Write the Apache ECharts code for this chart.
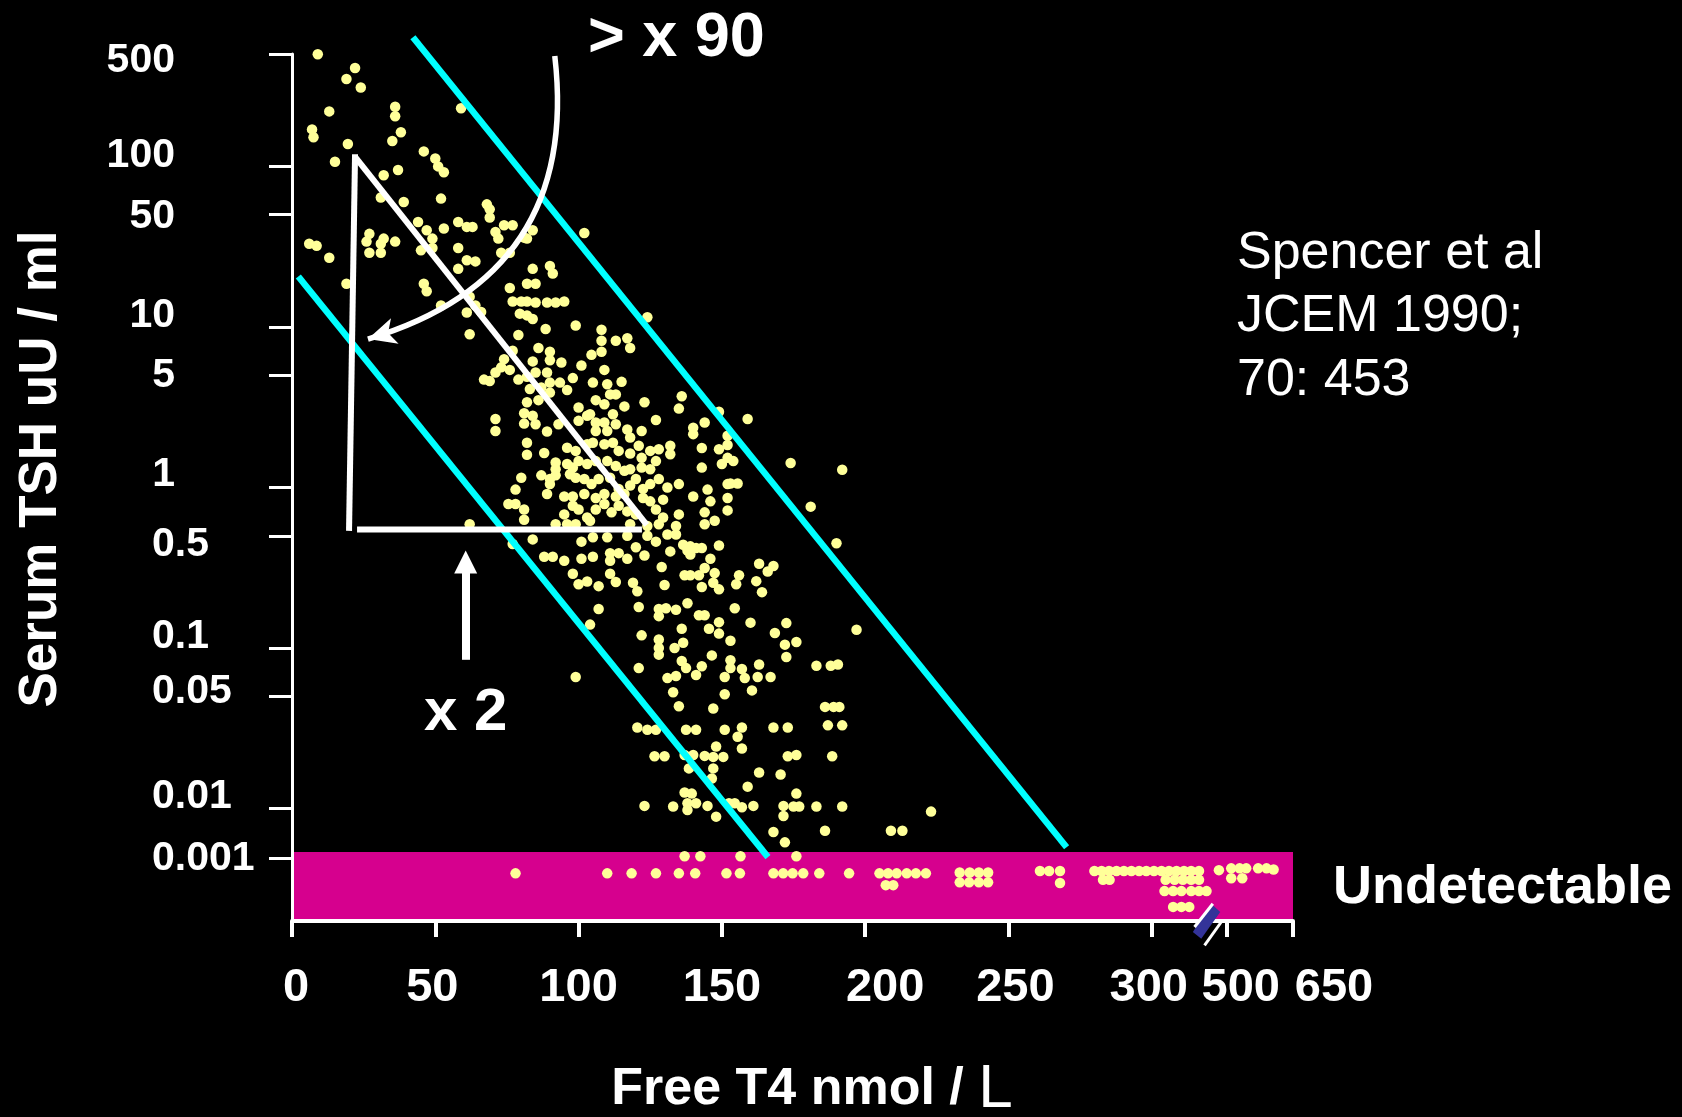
<!DOCTYPE html>
<html><head><meta charset="utf-8">
<script src="https://cdn.jsdelivr.net/npm/echarts@6/dist/echarts.min.js"></script>
<style>html,body{margin:0;padding:0;background:#000;}#c{width:1682px;height:1117px;}</style>
</head><body><div id="c"></div>
<script>
// ---------- tick labels ----------
const yTickValues = [500,100,50,10,5,1,0.5,0.1,0.05,0.01,0.001];
const yTickLabels = ['500','100','50','10','5','1','0.5','0.1','0.05','0.01','0.001'];
const xTickValues = [0,50,100,150,200,250,300,500,650];
const xTickLabels = ['0','50','100','150','200','250','300','500','650'];

// ---------- data: [Free T4 nmol/L, TSH uU/ml] ----------
const pointsHighTSH = [[9,500],[22,410],[19,350],[24,310],[13,220],[36,235],[36,205],[59,230],[7,170],[7.5,152],[38,163],[35,144],[19.5,138],[46,124],[15,107],[50,112],[51,100],[53,92],[32,88],[37,95],[31,64],[39,60],[52,63],[68,58],[69,54],[69,48],[44,45],[47,40],[53,41],[58,45],[61,42],[63,42],[71,39],[74,43],[77,43],[72,35.5],[81,36],[84,40],[82,35.5],[27,38],[26,34],[27,29],[31,29],[32,35.5],[31,33],[36,34],[6,33],[8.6,32],[13,27],[49,35.5],[49,31],[45,30],[58,31],[61,26],[64,25.6],[73,29],[76,29],[58,23],[84,23],[90,24],[91,21.5],[76,17.5],[82,18.6],[85,18.6],[46,18.6],[47,16.7],[19,18.6],[77,14.4],[80,14.4],[82,14.4],[85,14.2],[89,14.2],[92,14.2],[95,14.4],[79.5,12.1],[82,11.8],[84,11.2],[52,13.6],[62,15.4],[64,13.6],[66,12.4],[61,12.3],[99,10.2],[88.5,9.7],[102,38.5],[124,11.5],[62,9.0],[79,8.9],[108,9.6],[108,8.2],[108,7.0],[113,8.2],[117,8.5],[118,7.4],[86,7.4],[90,7.0],[90,6.2],[94,6.0],[104.5,6.7],[101,5.75],[109,5.4],[77,7.1],[74,6.3],[73,5.6],[84,6.1],[71,5.2],[76,5.4],[85,5.2],[89,5.2]];

const pointsMidTSH = [[67,4.7],[69,4.6],[79,4.7],[82,4.9],[90,4.5],[93.5,4.5],[98,4.8],[96,4.05],[105,4.5],[110,4.4],[111,3.8],[115,4.55],[113,3.8],[87,4.2],[90,3.9],[83,4.1],[82,3.4],[86,3.5],[106,3.5],[109,3.3],[116,3.2],[123,3.4],[100,3.15],[104,2.86],[136,3.7],[135,3.1],[149,2.96],[71,2.67],[71,2.25],[81,2.9],[81,2.5],[84,2.8],[85,2.48],[89,2.23],[93,2.48],[100,2.6],[103,2.8],[106,2.54],[109,2.54],[112,2.86],[113,2.48],[106,2.25],[110,2.25],[117,2.3],[118,2.05],[122,2.25],[127,2.63],[140,2.36],[140,2.15],[144,2.54],[82,1.9],[88,1.64],[96,1.77],[99,1.69],[103,1.86],[105,1.9],[109,1.86],[112,1.9],[114,1.69],[118,1.63],[121,1.82],[122,1.53],[125,1.69],[128,1.73],[132,1.82],[132,1.61],[143,1.76],[149,1.73],[152,1.53],[82,1.6],[92,1.43],[92,1.3],[96,1.4],[98,1.33],[100,1.46],[103,1.4],[106,1.46],[110,1.46],[113,1.36],[116,1.27],[118,1.3],[122,1.33],[125,1.3],[127,1.46],[143,1.33],[150,1.4],[80,1.15],[87,1.19],[90,1.13],[92,1.19],[90,1.05],[97,1.21],[99,1.15],[102,1.13],[104.5,1.05],[107,1.13],[111,1.15],[114,0.98],[118,1.03],[120,1.13],[122.5,0.98],[125,1.05],[128,1.13],[135,1.05],[131,1.0],[145,0.97],[152,1.05],[78,0.97],[89,0.91],[95,0.88],[98,0.88],[102,0.91],[106,0.86],[109,0.91],[113,0.88],[116,0.91],[122.5,0.86],[125,0.82],[129.5,0.84],[140,0.88],[146,0.82],[152,0.86],[75.5,0.79],[78,0.79],[81,0.73],[81,0.63],[95,0.68],[98,0.77],[100,0.73],[103,0.65],[106,0.73],[109,0.79],[111.5,0.7],[114,0.77],[117,0.71],[120,0.68],[127,0.73],[129.5,0.65],[135,0.68],[144,0.7],[147.5,0.62],[144,0.59],[152,0.72],[62,0.59],[92,0.59],[96,0.59],[99,0.59],[104,0.62],[118,0.59],[124,0.575],[128,0.59],[134,0.575],[77,0.445],[84,0.475],[88,0.37],[91,0.37],[95,0.35],[101,0.36],[105,0.37],[98,0.29],[100,0.25],[103,0.26],[107,0.243],[111,0.39],[114,0.39],[111,0.35],[117,0.36],[120,0.425],[123,0.377],[111,0.29],[113,0.258],[119,0.255],[120.5,0.226],[107,0.175],[121,0.18],[104,0.14],[122,0.12],[101,0.46],[105,0.49],[110,0.49],[117,0.5],[124,0.5],[127,0.46],[152,2.1],[152,1.84],[154,1.46],[159,2.67],[174,1.42],[192,1.29],[181,0.76],[190,0.45],[153,1.06],[155.5,1.06],[131,0.51],[134,0.51],[132,0.4],[136.5,0.44],[138,0.405],[139,0.383],[139,0.43],[141,0.42],[143,0.42],[149,0.435],[146,0.36],[144,0.315],[147.5,0.293],[129,0.32],[137,0.284],[139,0.284],[142,0.284],[143,0.24],[147,0.255],[149,0.232],[130,0.247],[156,0.284],[162,0.261],[164,0.223],[163,0.335],[166,0.30],[168,0.324],[155,0.25],[154.5,0.177],[138,0.19],[134,0.173],[128,0.175],[130.5,0.177],[128,0.158],[142,0.16],[144,0.16],[136,0.132],[145.5,0.132],[149,0.145],[149,0.123],[160,0.144],[168.5,0.124],[172.5,0.143],[172,0.105],[176,0.109],[153,0.111],[197,0.13],[128,0.113],[128,0.1],[136.5,0.108]];

const pointsLowTSH = [[121,0.075],[99,0.066],[120.5,0.032],[124,0.031],[172.5,0.088],[146.5,0.09],[153,0.084],[153,0.075],[157,0.074],[163,0.079],[167,0.066],[183,0.0775],[188,0.0775],[190.5,0.079],[128,0.091],[133.5,0.1],[136,0.083],[137.5,0.075],[143,0.077],[141,0.068],[131,0.065],[134,0.067],[151,0.066],[158,0.065],[162.5,0.066],[127,0.031],[133,0.053],[151,0.0515],[160.5,0.0545],[135,0.0434],[147,0.042],[186,0.043],[189,0.043],[191,0.043],[137.5,0.031],[141,0.031],[151,0.031],[157,0.032],[155.5,0.028],[168,0.032],[173,0.032],[187,0.033],[192,0.033],[157,0.0237],[148,0.0244],[126.5,0.0212],[130,0.0212],[137,0.0216],[140,0.0216],[144,0.0213],[147,0.021],[150.5,0.021],[138.5,0.0178],[147,0.0178],[146.5,0.0154],[173,0.0212],[176,0.0216],[188.5,0.0212],[163,0.0168],[170.5,0.0163],[159,0.0137],[137,0.0126],[139.5,0.0124],[138,0.0108],[138,0.0094],[141,0.0108],[123,0.0104],[133,0.0103],[145,0.0104],[148,0.0069],[152.5,0.0108],[154.5,0.0108],[157,0.0102],[161,0.0104],[171.5,0.0104],[171.5,0.0071],[176,0.0124],[175,0.0103],[177,0.0103],[183,0.0103],[192,0.0103],[168,0.0034],[172,0.0021],[186,0.0036],[209,0.0036],[213,0.0036],[223,0.0087],[137,0.0011],[142.5,0.0011],[156.5,0.0011],[176,0.0011]];

const pointsUndetectable = [[78,0.0005],[110,0.0005],[118.5,0.0005],[127,0.0005],[135,0.0005],[140.7,0.0005],[151.6,0.0005],[156.3,0.0005],[168,0.0005],[171.4,0.0005],[174.7,0.0005],[178.4,0.0005],[184,0.0005],[194.4,0.0005],[205,0.0005],[208,0.0005],[211,0.0005],[214.5,0.0005],[217.7,0.0005],[221.2,0.0005],[207.2,0.00029],[209.8,0.00029],[233,0.00052],[236.5,0.00052],[239.7,0.00052],[242.9,0.00052],[233,0.00033],[236.3,0.00033],[239.7,0.00033],[242.9,0.00033],[261,0.00056],[264.2,0.00056],[268,0.00056],[268,0.00032],[280,0.00056],[282.5,0.00056],[285.1,0.00056],[287.7,0.00056],[290.3,0.00056],[292.9,0.00056],[295.6,0.00056],[298.1,0.00056],[306,0.00056],[326,0.00056],[346,0.00056],[366,0.00056],[386,0.00056],[405,0.00056],[426,0.00056],[283,0.00037],[285.3,0.00037],[337,0.00037],[361,0.00037],[383,0.00037],[405,0.00037],[426,0.00037],[334,0.00022],[357,0.00022],[379,0.00022],[405,0.00022],[426,0.00022],[446,0.00022],[357,0.000106],[379,0.000106],[400,0.000106],[479,0.00058],[510,0.00063],[529,0.00063],[544,0.00063],[510,0.0004],[535,0.0004],[571,0.00063],[590,0.00063],[606,0.0006]];

// ---------- reference lines / annotations, in data units [FT4, TSH] ----------
const upperBoundLine = [[42.2,637],[270.3,0.00167]];
const lowerBoundLine = [[2.2,20.6],[166.1,0.00106]];
const triangleVertical = [[22.0,119],[19.9,0.537]];
const triangleSlope = [[22.3,113],[123.8,0.585]];
const triangleBase = [[22.7,0.547],[122.1,0.547]];
const arcArrow = [[91.7,487],[26.5,8.41]];
const upArrow = [[60.6,0.0845],[60.6,0.344]];
const undetectableTopTSH = 0.00134;
const axisBreakFT4 = 446;

// ---------- broken axis scales ----------
function xAxisVal(x){ return x<=300 ? x : (x<=500 ? 300+(x-300)*26.2/200 : 326.2+(x-500)*23.1/150); }
function yAxisVal(v){ const l=Math.log10(v); return v>=0.01 ? l : -2+0.31*(l+2); }
const toXY = p => [xAxisVal(p[0]), yAxisVal(p[1])];
const xMax = xAxisVal(650), yMin = -2.7, yMax = 2.7;
const xTicksAxis = xTickValues.map(xAxisVal);
const yTicksAxis = yTickValues.map(yAxisVal);
function nearest(arr, v){ let b=0; for(let i=1;i<arr.length;i++){ if(Math.abs(arr[i]-v)<Math.abs(arr[b]-v)) b=i; } return b; }
// a blank slot appended at the end of each list takes ECharts' end-label overlap check
const xLabelSlots = xTicksAxis.slice(0,8).concat([xMax-0.01, xMax]);
const xTickSlots = xTicksAxis.concat([xMax]);
const yLabelSlots = yTicksAxis.concat([yMin]);
const yTickSlots = yTicksAxis.concat([yMin]);

const FONT = '"Liberation Sans", Arial, Helvetica, sans-serif';
const xLabelShift = [4,-3,0,0,20,7,-3,14,41];
const yLabelShift = [7,-11,2,-11,0,-13,9,-11,-5,-12,0];
const xRich = {}; xLabelShift.forEach((d,i)=>{ xRich['x'+i] = {color:'#fff',fontSize:47,fontWeight:'bold',fontFamily:FONT,lineHeight:47,padding:[0, d<0?-2*d:0, 0, d>0?2*d:0]}; });
const yRich = {}; yLabelShift.forEach((d,i)=>{ const base={color:'#fff',fontSize:41,fontWeight:'bold',fontFamily:FONT,lineHeight:14};
  const pt = d>0?2*d:0, pb = d<0?-2*d:0;
  if (yTickValues[i] >= 1) { Object.assign(base,{width:69,align:'right',padding:[pt,0,pb,0]}); }
  else { Object.assign(base,{padding:[pt,0,pb,46]}); }
  yRich['y'+i]=base; });

function segment(pts, color, width){
  return {type:'line', data:pts.map(toXY), symbol:'none', showSymbol:false, clip:false, silent:true, z:4,
    lineStyle:{color:color, width:width, cap:'butt'}};
}

const chart = echarts.init(document.getElementById('c'), null, {renderer:'canvas'});
const option = {
  backgroundColor:'#000000',
  animation:false,
  grid:{left:292, right:389, top:54, bottom:196, containLabel:false},
  xAxis:{type:'value', min:0, max:xMax, z:10,
    axisLine:{show:true, onZero:false, lineStyle:{color:'#fff', width:4}},
    axisTick:{show:true, customValues:xTickSlots, length:16, lineStyle:{color:'#fff', width:4}},
    axisLabel:{show:true, customValues:xLabelSlots, margin:44, showMinLabel:true, showMaxLabel:false,
      formatter:v=>{ if (v >= xMax - 1e-9) return ''; const i=nearest(xTicksAxis,v); return '{x'+i+'|'+xTickLabels[i]+'}';}, rich:xRich},
    splitLine:{show:false}},
  yAxis:{type:'value', min:yMin, max:yMax, z:10,
    axisLine:{show:true, onZero:false, lineStyle:{color:'#fff', width:3}},
    axisTick:{show:true, customValues:yTickSlots, length:23, lineStyle:{color:'#fff', width:3}},
    axisLabel:{show:true, customValues:yLabelSlots, align:'left', margin:186, showMinLabel:true, showMaxLabel:false,
      formatter:v=>{ if (v <= yMin + 1e-9) return ''; const i=nearest(yTicksAxis,v); return '{y'+i+'|'+yTickLabels[i]+'}';}, rich:yRich},
    splitLine:{show:false}},
  series:[
    {type:'scatter', name:'undetectable', data:pointsUndetectable.map(toXY), symbolSize:10.5, clip:false, z:3,
      itemStyle:{color:'#FFFF99', opacity:1},
      markArea:{silent:true, itemStyle:{color:'#D6008E', opacity:1},
        data:[[{xAxis:0, yAxis:yMin},{xAxis:xMax, yAxis:yAxisVal(undetectableTopTSH)}]]}},
    {type:'scatter', name:'detected', data:pointsHighTSH.concat(pointsMidTSH, pointsLowTSH).map(toXY),
      symbolSize:10.5, clip:false, z:3, itemStyle:{color:'#FFFF99', opacity:1}},
    segment(upperBoundLine,'#00FFFF',6.5),
    segment(lowerBoundLine,'#00FFFF',6.5),
    segment(triangleVertical,'#FFFFFF',6),
    segment(triangleSlope,'#FFFFFF',6),
    segment(triangleBase,'#FFFFFF',6),
    {type:'lines', coordinateSystem:'cartesian2d', silent:true, z:5,
      data:[{coords:arcArrow.map(toXY)}], symbol:['none','arrow'], symbolSize:[0,[20,28]],
      lineStyle:{color:'#FFFFFF', width:5.5, opacity:1, curveness:0.42}},
    {type:'lines', coordinateSystem:'cartesian2d', silent:true, z:5,
      data:[{coords:upArrow.map(toXY)}], symbol:['none','triangle'], symbolSize:[0,[23,23]],
      lineStyle:{color:'#FFFFFF', width:8, opacity:1, curveness:0}}
  ]
};
chart.setOption(option);

const bp = chart.convertToPixel({gridIndex:0}, [xAxisVal(axisBreakFT4), yMin]);
const bx = bp[0], by = bp[1];
chart.setOption({graphic:[
  {type:'text', id:'t90', x:588, y:39, z:20, style:{text:'> x 90', fill:'#fff', font:'bold 63px '+FONT, verticalAlign:'middle', textVerticalAlign:'middle'}},
  {type:'text', id:'t2', x:424, y:713, z:20, style:{text:'x 2', fill:'#fff', font:'bold 60px '+FONT, verticalAlign:'middle', textVerticalAlign:'middle'}},
  {type:'text', id:'ref1', x:1237, y:254, z:20, style:{text:'Spencer et al', fill:'#fff', font:'52px '+FONT, verticalAlign:'middle', textVerticalAlign:'middle'}},
  {type:'text', id:'ref2', x:1237, y:317, z:20, style:{text:'JCEM 1990;', fill:'#fff', font:'52px '+FONT, verticalAlign:'middle', textVerticalAlign:'middle'}},
  {type:'text', id:'ref3', x:1237, y:381, z:20, style:{text:'70: 453', fill:'#fff', font:'52px '+FONT, verticalAlign:'middle', textVerticalAlign:'middle'}},
  {type:'text', id:'und', x:1333, y:888, z:20, style:{text:'Undetectable', fill:'#fff', font:'bold 54px '+FONT, verticalAlign:'middle', textVerticalAlign:'middle'}},
  {type:'text', id:'ytitle', x:41, y:469, z:20, rotation:Math.PI/2, style:{text:'Serum TSH uU / ml', fill:'#fff', font:'bold 53px '+FONT, align:'center', textAlign:'center', verticalAlign:'middle', textVerticalAlign:'middle'}},
  {type:'text', id:'xtitle', x:812, y:1090, z:20, style:{text:'{a|Free T4 nmol / }{b|L}', align:'center', textAlign:'center', verticalAlign:'middle', textVerticalAlign:'middle',
     rich:{a:{fill:'#fff', color:'#fff', fontSize:52, fontWeight:'bold', fontFamily:FONT}, b:{fill:'#fff', color:'#fff', fontSize:62, fontFamily:FONT}}}},
  {type:'polygon', id:'brk0', x:bx, y:by, z:30, shape:{points:[[-13.7,11],[4.7,-17.3],[13.7,-9],[-5.3,17.7]]}, style:{fill:'#333399'}},
  {type:'line', id:'brk1', x:bx, y:by, z:31, shape:{x1:-12,y1:6,x2:6.3,y2:-17.3}, style:{stroke:'#fff', lineWidth:3}},
  {type:'line', id:'brk2', x:bx, y:by, z:31, shape:{x1:-2,y1:24.3,x2:14.7,y2:1}, style:{stroke:'#fff', lineWidth:3}}
]});
</script></body></html>
